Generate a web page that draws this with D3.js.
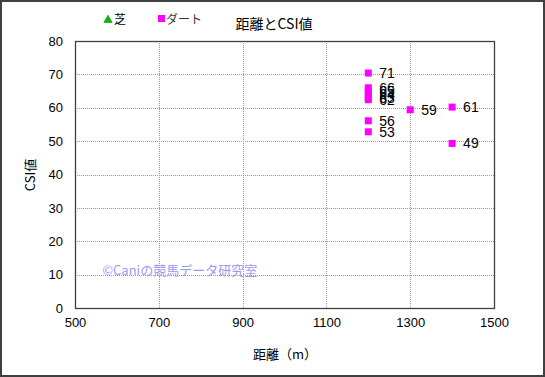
<!DOCTYPE html>
<html>
<head>
<meta charset="utf-8">
<script src="https://cdn.jsdelivr.net/npm/d3@7"></script>
<style>
  body { margin: 0; background: #fff; }
  text { font-family: "Liberation Sans", Arial, "Noto Sans CJK JP", sans-serif; }
  .jp { font-family: "Noto Sans CJK JP", sans-serif; }
</style>
</head>
<body>
<div id="app"></div>
<script>
// data
var distances = [1200, 1200, 1200, 1200, 1200, 1200, 1200, 1200, 1300, 1400, 1400];
var csiValues = [70.4, 66, 65, 64, 63, 62.4, 56.1, 52.8, 59.4, 60.2, 49.3];
var pointLabels = ["71", "66", "65", "64", "63", "62", "56", "53", "59", "61", "49"];
var xTicks = [500, 700, 900, 1100, 1300, 1500];
var yTicks = [0, 10, 20, 30, 40, 50, 60, 70, 80];
var legendNames = ["芝", "ダート"];

var W = 545, H = 377;
var margin = {top: 41, right: 51, bottom: 69, left: 75};
var width = W - margin.left - margin.right;
var height = H - margin.top - margin.bottom;

var svg = d3.select("#app")
  .append("svg")
    .attr("width", W)
    .attr("height", H);

// outer frame
svg.append("rect")
  .attr("x", 1).attr("y", 1)
  .attr("width", W - 2).attr("height", H - 2)
  .attr("fill", "white")
  .attr("stroke", "#404040")
  .attr("stroke-width", 2);

var g = svg.append("g")
  .attr("transform", "translate(" + margin.left + "," + margin.top + ")");

var x = d3.scaleLinear().domain([500, 1500]).range([0, width]);
var y = d3.scaleLinear().domain([0, 80]).range([height, 0]);

// grid
g.selectAll(".vgrid")
  .data(xTicks.slice(1, -1))
  .join("line")
    .attr("x1", d => Math.round(x(d)) + 0.5)
    .attr("x2", d => Math.round(x(d)) + 0.5)
    .attr("y1", 0).attr("y2", height)
    .attr("stroke", "#999")
    .attr("stroke-dasharray", "1,1");

g.selectAll(".hgrid")
  .data(yTicks.slice(1, -1))
  .join("line")
    .attr("y1", d => Math.round(y(d)) + 0.5)
    .attr("y2", d => Math.round(y(d)) + 0.5)
    .attr("x1", 0).attr("x2", width)
    .attr("stroke", "#999")
    .attr("stroke-dasharray", "1,1");

// plot frame
g.append("rect")
  .attr("x", 0.5).attr("y", 0.5)
  .attr("width", width).attr("height", height)
  .attr("fill", "none")
  .attr("stroke", "#404040")
  .attr("stroke-width", 1.3);

// axes
var xAxis = g.append("g")
  .attr("transform", "translate(0," + height + ")")
  .call(d3.axisBottom(x).tickValues(xTicks).tickSize(0).tickPadding(10).tickFormat(d3.format("d")));
xAxis.select(".domain").remove();
xAxis.selectAll("text").attr("font-size", 13).attr("fill", "#000")
  .style("font-family", "'Liberation Sans', Arial, sans-serif");

var yAxis = g.append("g")
  .call(d3.axisLeft(y).tickValues(yTicks).tickSize(0).tickPadding(12));
yAxis.select(".domain").remove();
yAxis.selectAll("text").attr("font-size", 13).attr("fill", "#000")
  .style("font-family", "'Liberation Sans', Arial, sans-serif");

// watermark
g.append("text")
  .attr("class", "jp")
  .attr("x", x(565))
  .attr("y", y(9.8))
  .attr("font-size", 13)
  .attr("fill", "#9a9af0")
  .text("©Caniの競馬データ研究室");

// points
g.selectAll(".pt")
  .data(csiValues)
  .join("rect")
    .attr("x", (d, i) => x(distances[i]) - 3.5)
    .attr("y", d => y(d) - 3.5)
    .attr("width", 7).attr("height", 7)
    .attr("fill", "#ff00ff");

g.selectAll(".lbl")
  .data(csiValues)
  .join("text")
    .attr("x", (d, i) => x(distances[i]) + 11)
    .attr("y", d => y(d) + 5)
    .attr("font-size", 14)
    .attr("fill", "#000")
    .text((d, i) => pointLabels[i]);

// title
svg.append("text")
  .attr("class", "jp")
  .attr("x", 274).attr("y", 29)
  .attr("text-anchor", "middle")
  .attr("font-size", 14)
  .text("距離とCSI値");

// legend
svg.append("path")
  .attr("d", d3.symbol(d3.symbolTriangle, 30)())
  .attr("transform", "translate(108,20)")
  .attr("fill", "#00c000")
  .attr("stroke", "#006000")
  .attr("stroke-width", 0.5);
svg.append("text")
  .attr("class", "jp")
  .attr("x", 114).attr("y", 24)
  .attr("font-size", 12)
  .text(legendNames[0]);

svg.append("rect")
  .attr("x", 158).attr("y", 15)
  .attr("width", 7).attr("height", 7)
  .attr("fill", "#ff00ff");
svg.append("text")
  .attr("class", "jp")
  .attr("x", 166).attr("y", 24)
  .attr("font-size", 12)
  .attr("fill", "#333")
  .text(legendNames[1]);

// axis titles
svg.append("text")
  .attr("class", "jp")
  .attr("x", 285).attr("y", 359)
  .attr("text-anchor", "middle")
  .attr("font-size", 13)
  .text("距離（m）");

svg.append("text")
  .attr("class", "jp")
  .attr("transform", "translate(35,175) rotate(-90)")
  .attr("text-anchor", "middle")
  .attr("font-size", 13)
  .text("CSI値");
</script>
</body>
</html>
